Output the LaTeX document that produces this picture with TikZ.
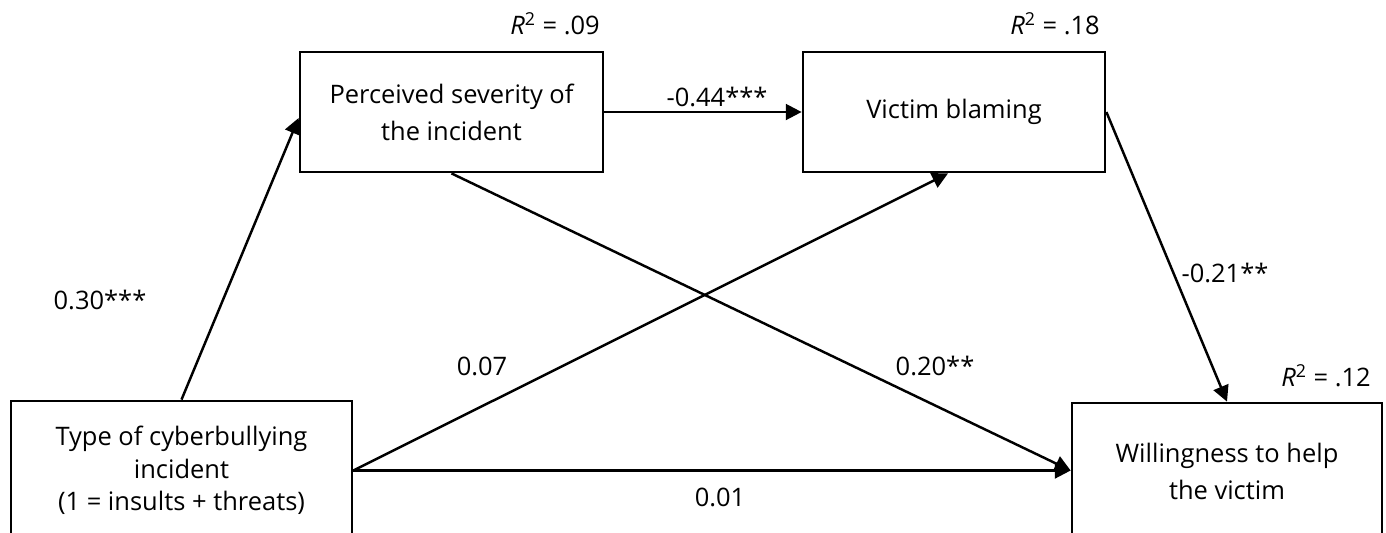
\documentclass[tikz,border=0pt]{standalone}
\usepackage{fontspec}
\setmainfont{Open Sans}
\usetikzlibrary{arrows.meta}

\begin{document}
\begin{tikzpicture}[x=0.02cm,y=-0.02cm,
  box/.style={draw,line width=1.6pt,align=center,font=\fontsize{14.5}{21}\selectfont},
  path/.style={line width=1.4pt,-{Triangle[length=9pt,width=9pt]}},
  coef/.style={font=\fontsize{14.5}{17}\selectfont}]
\useasboundingbox (0,0) rectangle (1386,532);
% boxes
\node [box,minimum width=6.82cm,minimum height=2.78cm,font=\fontsize{14.5}{18.5}\selectfont] (type) at (181.5,470.5) {Type of cyberbullying\\incident\\(1 = insults + threats)};
\node [box,minimum width=6.06cm,minimum height=2.4cm] (sev) at (451.5,112) {Perceived severity of\\the incident};
\node [box,minimum width=6.04cm,minimum height=2.4cm] (blame) at (954,112) {Victim blaming};
\node [box,minimum width=6.2cm,minimum height=2.74cm] (will) at (1227,471.5) {Willingness to help\\the victim};
% explained variance
\node [coef] (r2sev) at (555,24) {\textit{R}\textsuperscript{2} = .09};
\node [coef] (r2blame) at (1055,24) {\textit{R}\textsuperscript{2} = .18};
\node [coef] (r2will) at (1326,376) {\textit{R}\textsuperscript{2} = .12};
% paths
\draw [path] (type.north) -- ([yshift=-0.12cm]sev.west);
\draw [path] (sev.east) -- (blame.west);
\draw [path] (blame.east) -- (will.north);
\draw [path] (sev.south) -- (type.east -| will.west);
\draw [path] (type.east) -- ([xshift=-0.12cm]blame.south);
\draw [path] (type.east) -- (type.east -| will.west);
% coefficients
\node [coef] (a) at (100,300) {0.30***};
\node [coef] (b) at (717,97) {-0.44***};
\node [coef] (c) at (1225,273) {-0.21**};
\node [coef] (d) at (482,366) {0.07};
\node [coef] (e) at (935,366) {0.20**};
\node [coef] (f) at (720,497) {0.01};
\end{tikzpicture}
\end{document}
